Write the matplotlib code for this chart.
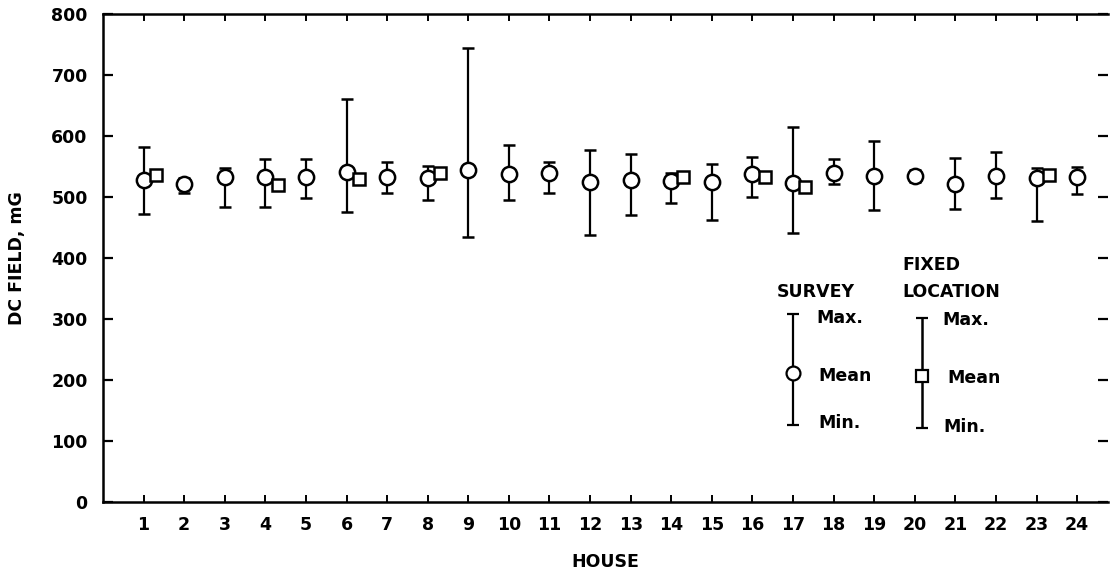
import matplotlib
matplotlib.use("Agg")
import matplotlib.pyplot as plt
import numpy as np

houses = list(range(1, 25))
survey_mean = [527, 522, 533, 532, 532, 541, 533, 531, 544, 537, 540, 524,
               528, 526, 525, 537, 523, 539, 534, 534, 522, 534, 531, 533]
survey_max = [582, 531, 548, 562, 562, 661, 558, 550, 744, 585, 557, 577,
              570, 539, 554, 566, 614, 562, 591, 544, 563, 573, 547, 549]
survey_min = [472, 506, 484, 484, 499, 475, 506, 495, 435, 495, 507, 437,
              470, 490, 462, 500, 441, 522, 479, 525, 480, 499, 460, 504]

fixed_houses = [1, 4, 6, 8, 14, 16, 17, 23]
fixed_mean = [536, 520, 529, 539, 533, 532, 517, 536]

yticks = [0, 100, 200, 300, 400, 500, 600, 700, 800]

FS = 12.5
plt.rcParams['font.family'] = ['DejaVu Sans']
fig = plt.figure(figsize=(11.1, 5.79), dpi=100)
ax = fig.add_axes([0.0928, 0.133, 0.905, 0.843])

x = np.array(houses, dtype=float)
m = np.array(survey_mean)
lo = m - np.array(survey_min)
hi = np.array(survey_max) - m
ax.errorbar(x, m, yerr=[lo, hi], fmt='o', color='black', mfc='white',
            mec='black', mew=1.8, ms=11, elinewidth=1.6, capsize=4.3,
            capthick=2.2, zorder=3)
ax.plot(np.array(fixed_houses) + 0.3, fixed_mean, 's', mfc='white',
        mec='black', mew=1.8, ms=9, zorder=4, linestyle='none')

ax.set_xlim(0.0, 24.75)
ax.set_ylim(0, 800)
ax.set_xticks(houses)
ax.set_xticklabels([str(h) for h in houses])
ax.set_yticks(yticks)
ax.set_yticklabels([str(v) for v in yticks])

for s in ['left', 'bottom', 'top']:
    ax.spines[s].set_linewidth(1.8)
ax.spines['right'].set_visible(False)

ax.tick_params(axis='y', which='both', direction='in', left=True, right=True,
               length=7, width=1.6, pad=11, labelsize=FS)
ax.tick_params(axis='x', direction='in', top=True, bottom=True, length=5,
               width=1.4, pad=10, labelsize=FS)
for lab in ax.get_xticklabels() + ax.get_yticklabels():
    lab.set_fontweight('bold')

ax.set_xlabel('HOUSE', fontsize=FS, fontweight='bold', labelpad=14)
ax.set_ylabel('DC FIELD, mG', fontsize=FS, fontweight='bold', labelpad=18)

# Legend (drawn in axes-fraction coordinates)
tr = ax.transAxes
def fy(v):
    return v / 800.0

# Survey legend
lx = 0.6866
ax.text(0.710, 0.431, 'SURVEY', transform=tr, ha='center', va='center',
        fontsize=FS, fontweight='bold')
ax.errorbar([lx], [fy(211)], yerr=[[fy(211) - fy(127)], [fy(308) - fy(211)]],
            fmt='o', color='black', mfc='white', mec='black', mew=1.6, ms=10,
            elinewidth=1.6, capsize=4.3, capthick=1.8, transform=tr,
            clip_on=False, zorder=5)
ax.text(0.7105, fy(301), 'Max.', transform=tr, ha='left', va='center',
        fontsize=FS, fontweight='bold')
ax.text(0.7125, fy(207), 'Mean', transform=tr, ha='left', va='center',
        fontsize=FS, fontweight='bold')
ax.text(0.7125, fy(129), 'Min.', transform=tr, ha='left', va='center',
        fontsize=FS, fontweight='bold')

# Fixed location legend
fx = 0.815
ax.text(0.796, 0.486, 'FIXED', transform=tr, ha='left', va='center',
        fontsize=FS, fontweight='bold')
ax.text(0.796, 0.431, 'LOCATION', transform=tr, ha='left', va='center',
        fontsize=FS, fontweight='bold')
ax.errorbar([fx], [fy(207)], yerr=[[fy(207) - fy(121)], [fy(302) - fy(207)]],
            fmt='s', color='black', mfc='white', mec='black', mew=1.6, ms=8,
            elinewidth=1.8, capsize=4.3, capthick=1.8, transform=tr,
            clip_on=False, zorder=5)
ax.text(0.8355, fy(298), 'Max.', transform=tr, ha='left', va='center',
        fontsize=FS, fontweight='bold')
ax.text(0.841, fy(203), 'Mean', transform=tr, ha='left', va='center',
        fontsize=FS, fontweight='bold')
ax.text(0.837, fy(123), 'Min.', transform=tr, ha='left', va='center',
        fontsize=FS, fontweight='bold')

fig.savefig('out.png', dpi=100)
